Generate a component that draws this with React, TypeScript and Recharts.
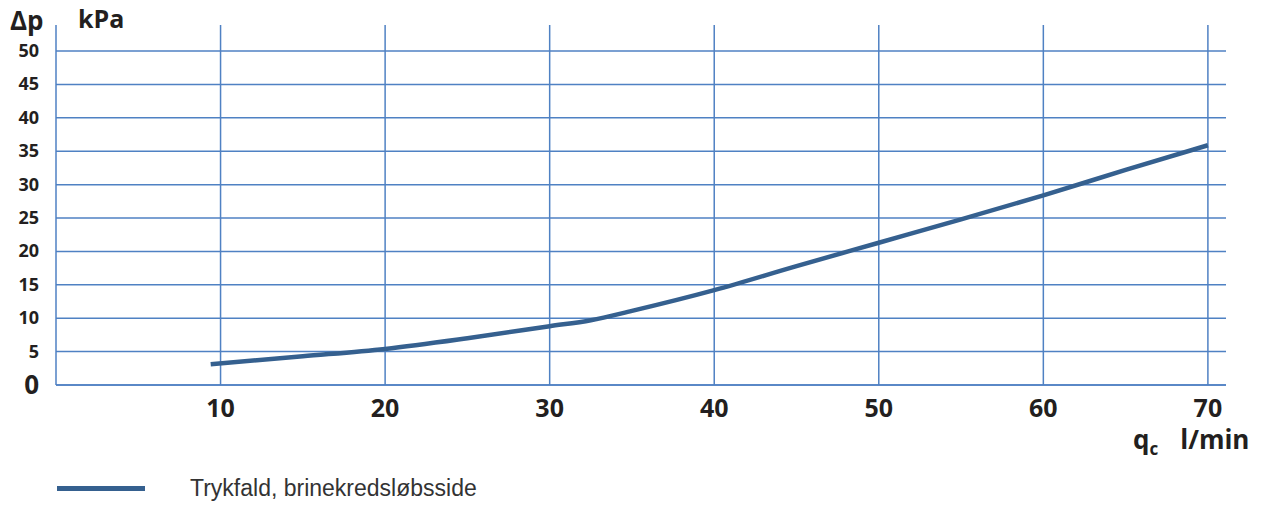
import { CartesianGrid, Line, LineChart, XAxis, YAxis } from 'recharts';

const flowRates = [9.4, 15, 20, 25, 30, 32.5, 35, 40, 45, 50, 55, 60, 65, 70];
const pressureDrop = [3.1, 4.3, 5.4, 7.0, 8.8, 9.7, 11.1, 14.2, 17.8, 21.3, 24.8, 28.4, 32.2, 35.9];
const xTicks = [10, 20, 30, 40, 50, 60, 70];
const yTicks = [0, 5, 10, 15, 20, 25, 30, 35, 40, 45, 50];
const seriesName = 'Trykfald, brinekredsløbsside';

const data = flowRates.map((q, i) => ({ q, dp: pressureDrop[i] }));

const GRID = '#4f81c3'; // blue grid
const LINE = '#35608f';
const TEXT = '#231f20';
const FONT = '"Open Sans", sans-serif';

function YTick({ y, payload }: any) {
    const zero = payload.value === 0;
    return (
        <text
            x={39}
            y={y}
            dy={zero ? 9 : 6}
            textAnchor="end"
            fontFamily={FONT}
            fontWeight={700}
            fontSize={zero ? 26 : 18}
            fill={TEXT}
        >
            {payload.value}
        </text>
    );
}

function XTick({ x, y, payload }: any) {
    return (
        <text x={x} y={y} dy={24} textAnchor="middle" fontFamily={FONT} fontWeight={700} fontSize={25} fill={TEXT}>
            {payload.value}
        </text>
    );
}

export default function App() {
    return (
        <div style={{ position: 'absolute', left: 0, top: 0, width: 1269, height: 505, background: '#fff' }}>
            <LineChart width={1269} height={505} data={data} margin={{ top: 25, right: 43, left: 0, bottom: 0 }}>
                <CartesianGrid stroke={GRID} strokeWidth={1.5} horizontalValues={yTicks} verticalValues={xTicks} />
                <XAxis
                    dataKey="q"
                    type="number"
                    domain={[0, 71.1]}
                    ticks={xTicks}
                    height={120}
                    stroke={GRID}
                    strokeWidth={1.5}
                    tickLine={false}
                    tick={<XTick />}
                    interval={0}
                />
                <YAxis
                    type="number"
                    domain={[0, 53.9]}
                    ticks={yTicks}
                    width={56}
                    stroke={GRID}
                    strokeWidth={1.5}
                    tickLine={false}
                    tick={<YTick />}
                    interval={0}
                />
                <Line
                    type="monotone"
                    dataKey="dp"
                    name={seriesName}
                    stroke={LINE}
                    strokeWidth={4.5}
                    dot={false}
                    isAnimationActive={false}
                />
                <text x={10} y={30} fontFamily={FONT} fontWeight={700} fontSize={26} fill={TEXT}>
                    Δp
                </text>
                <text x={78} y={28} fontFamily={FONT} fontWeight={700} fontSize={25} fill={TEXT}>
                    kPa
                </text>
                <text x={1133} y={449} fontFamily={FONT} fontWeight={700} fontSize={26} fill={TEXT}>
                    q
                    <tspan fontSize={17} dy={6}>c</tspan>
                    <tspan dx={22} dy={-6}>l/min</tspan>
                </text>
            </LineChart>
            {/* legend */}
            <div style={{ position: 'absolute', left: 57, top: 486, width: 88, height: 5, background: LINE }} />
            <span
                style={{
                    position: 'absolute',
                    left: 190,
                    top: 475,
                    fontFamily: '"Liberation Sans", Arial, sans-serif',
                    fontSize: 23,
                    lineHeight: '26px',
                    color: '#333',
                }}
            >
                {seriesName}
            </span>
        </div>
    );
}
